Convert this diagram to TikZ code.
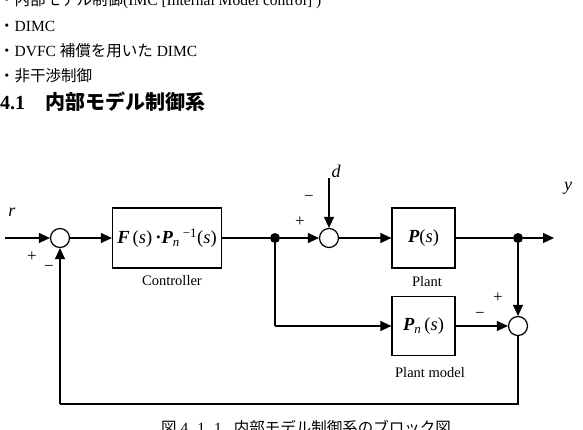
\documentclass[tikz,border=0pt]{standalone}
\usepackage{fontspec}
\setmainfont{Liberation Serif}
\newfontfamily\jp{Noto Sans CJK JP}
\usetikzlibrary{arrows.meta}
\tikzset{
  sumc/.style={draw, circle, fill=white, minimum size=19pt, inner sep=0pt, line width=1.2pt},
  blk/.style={draw, rectangle, inner sep=0pt, line width=1.2pt},
  jdot/.style={circle, fill=black, minimum size=10pt, inner sep=0pt},
  arr/.style={-{Triangle[length=11pt,width=10pt]}},
  wire/.style={line width=1.2pt},
  txt/.style={inner sep=0pt, anchor=base west, font=\fontsize{15.5}{18}\selectfont},
  lbl/.style={inner sep=0pt, font=\fontsize{14.5}{17}\selectfont},
  sgn/.style={inner sep=0pt, font=\fontsize{17}{19}\selectfont},
  var/.style={inner sep=0pt, font=\fontsize{18}{20}\selectfont\itshape},
}
\begin{document}
\begin{tikzpicture}[x=1pt, y=-1pt]
\useasboundingbox (0,0) rectangle (583,429);
\clip (0,0) rectangle (583,429);
% text above
\node[txt] (t0) at (-1,5) {{\jp ・内部モデル制御}(IMC [Internal Model control] )};
\node[txt] (t1) at (-1,31) {{\jp ・}DIMC};
\node[txt] (t2) at (-1,56) {{\jp ・}DVFC {\jp 補償を用いた} DIMC};
\node[txt] (t3) at (-1,81) {{\jp ・非干渉制御}};
\node[txt, font=\fontsize{20}{22}\selectfont\bfseries] (hd) at (0,109) {4.1\hspace{20pt}{\jp 内部モデル制御系}};
% blocks
\node[sumc] (s1) at (60,238) {};
\node[blk, minimum width=109pt, minimum height=60pt, font=\fontsize{18.5}{20}\selectfont] (C) at (167,238)
  {{\bfseries\itshape F}\,(\textit{s})\,\textbf{·}{\bfseries\itshape P}\textsubscript{\textit{n}}\,\textsuperscript{−1}(\textit{s})};
\node[jdot] (j1) at (275,238) {};
\node[sumc] (s2) at (329,238) {};
\node[blk, minimum width=63pt, minimum height=60pt, font=\fontsize{18.5}{20}\selectfont] (P) at (423.5,238)
  {{\bfseries\itshape P}(\textit{s})};
\node[jdot] (j2) at (518,238) {};
\node[blk, minimum width=63pt, minimum height=59pt, font=\fontsize{18.5}{20}\selectfont] (Pn) at (423.5,326)
  {{\bfseries\itshape P}\textsubscript{\textit{n}}\,(\textit{s})};
\node[sumc] (s3) at (518,326) {};
\coordinate (in) at (5,238);
\coordinate (out) at (554,238);
\coordinate (dtop) at (329,178);
\coordinate (jl) at (275,326);
\coordinate (br) at (518,404);
\coordinate (bl) at (60,404);
% labels
\node[lbl] (lc) at (172,281) {Controller};
\node[lbl] (lp) at (427,282) {Plant};
\node[lbl] (lpm) at (430,373) {Plant model};
\node[var] (r) at (12,212) {r};
\node[var] (d) at (336,171) {d};
\node[var] (y) at (568,188) {y};
\node[sgn] (p1) at (32,257) {+};
\node[sgn] (m1) at (49,268) {−};
\node[sgn] (p2) at (300,222) {+};
\node[sgn] (m2) at (309,198) {−};
\node[sgn] (p3) at (498,298) {+};
\node[sgn] (m3) at (480,315) {−};
% wires
\begin{scope}[wire]
\draw[arr] (in) -- (s1);
\draw[arr] (s1) -- (C);
\draw (C) -- (j1);
\draw[arr] (j1) -- (s2);
\draw[arr] (dtop) -- (s2);
\draw[arr] (s2) -- (P);
\draw (P) -- (j2);
\draw[arr] (j2) -- (out);
\draw[arr] (j2) -- (s3);
\draw (j1) -- (jl);
\draw[arr] (jl) -- (Pn);
\draw[arr] (Pn) -- (s3);
\draw (s3) -- (br) -- (bl);
\draw[arr] (bl) -- (s1);
\end{scope}
% caption
\node[txt] (cap) at (161,433) {{\jp 図} 4. 1. 1\hspace{12pt}{\jp 内部モデル制御系のブロック図}};
\end{tikzpicture}
\end{document}
